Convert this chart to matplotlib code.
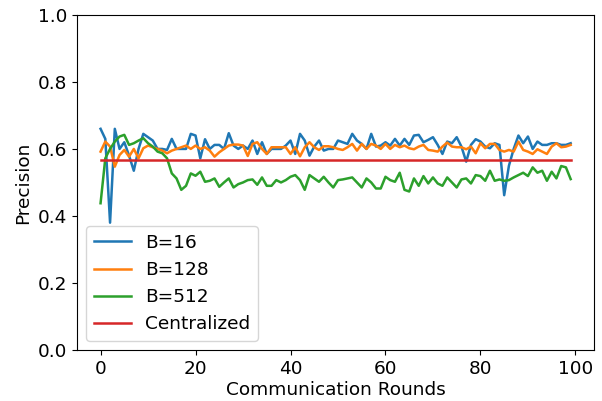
import matplotlib
matplotlib.use("Agg")
import matplotlib.pyplot as plt

rounds = list(range(100))

b16 = [0.66, 0.63, 0.38, 0.66, 0.60, 0.62, 0.58, 0.535, 0.60, 0.645,
       0.635, 0.625, 0.60, 0.60, 0.597, 0.63, 0.60, 0.60, 0.60, 0.645,
       0.64, 0.572, 0.629, 0.60, 0.612, 0.612, 0.60, 0.647, 0.61, 0.60,
       0.61, 0.60, 0.625, 0.585, 0.62, 0.585, 0.60, 0.60, 0.60, 0.61,
       0.625, 0.585, 0.645, 0.625, 0.58, 0.607, 0.625, 0.595, 0.60, 0.60,
       0.625, 0.62, 0.615, 0.645, 0.625, 0.615, 0.60, 0.645, 0.607, 0.61,
       0.62, 0.61, 0.63, 0.61, 0.63, 0.612, 0.64, 0.642, 0.62, 0.627,
       0.635, 0.612, 0.585, 0.622, 0.617, 0.635, 0.607, 0.562, 0.612, 0.629,
       0.622, 0.607, 0.602, 0.617, 0.612, 0.462, 0.55, 0.60, 0.64, 0.617,
       0.637, 0.60, 0.622, 0.612, 0.612, 0.617, 0.617, 0.612, 0.612, 0.617]

b128 = [0.592, 0.622, 0.607, 0.547, 0.582, 0.597, 0.577, 0.60, 0.572, 0.602,
        0.61, 0.605, 0.60, 0.595, 0.587, 0.595, 0.60, 0.605, 0.61, 0.60,
        0.61, 0.60, 0.605, 0.595, 0.577, 0.59, 0.60, 0.61, 0.613, 0.613,
        0.61, 0.579, 0.615, 0.62, 0.60, 0.585, 0.605, 0.605, 0.605, 0.605,
        0.585, 0.605, 0.578, 0.605, 0.62, 0.605, 0.597, 0.608, 0.608, 0.605,
        0.60, 0.597, 0.605, 0.615, 0.595, 0.615, 0.60, 0.615, 0.61, 0.60,
        0.615, 0.60, 0.612, 0.605, 0.61, 0.602, 0.599, 0.607, 0.612, 0.597,
        0.595, 0.592, 0.607, 0.619, 0.607, 0.605, 0.605, 0.599, 0.607, 0.587,
        0.617, 0.602, 0.615, 0.615, 0.597, 0.592, 0.597, 0.592, 0.622, 0.597,
        0.592, 0.585, 0.599, 0.592, 0.585, 0.607, 0.617, 0.605, 0.607, 0.612]

b512 = [0.438, 0.572, 0.60, 0.622, 0.637, 0.642, 0.612, 0.617, 0.625, 0.632,
        0.617, 0.607, 0.592, 0.587, 0.572, 0.527, 0.512, 0.478, 0.49, 0.527,
        0.52, 0.532, 0.502, 0.505, 0.512, 0.487, 0.50, 0.512, 0.485, 0.495,
        0.50, 0.507, 0.509, 0.493, 0.515, 0.49, 0.49, 0.507, 0.50, 0.507,
        0.517, 0.522, 0.507, 0.478, 0.522, 0.512, 0.502, 0.517, 0.50, 0.485,
        0.507, 0.509, 0.512, 0.515, 0.50, 0.485, 0.512, 0.50, 0.482, 0.482,
        0.517, 0.507, 0.502, 0.529, 0.478, 0.473, 0.512, 0.49, 0.519, 0.497,
        0.515, 0.497, 0.49, 0.515, 0.50, 0.485, 0.509, 0.512, 0.497, 0.522,
        0.519, 0.505, 0.535, 0.505, 0.509, 0.505, 0.507, 0.515, 0.522, 0.529,
        0.519, 0.545, 0.529, 0.535, 0.505, 0.532, 0.512, 0.549, 0.545, 0.51]

centralized = 0.567

series = [("B=16", b16, "#1f77b4"),
          ("B=128", b128, "#ff7f0e"),
          ("B=512", b512, "#2ca02c")]

fs = 13.3
fig = plt.figure(figsize=(6.02, 4.01), dpi=100)
ax = fig.add_axes([0.128, 0.127, 0.859, 0.836])
for label, vals, color in series:
    ax.plot(rounds, vals, color=color, lw=1.8, label=label)
ax.plot(rounds, [centralized] * len(rounds), color="#d62728", lw=1.8, label="Centralized")

ax.set_ylim(0, 1.0)
ax.set_xticks([0, 20, 40, 60, 80, 100])
ax.set_yticks([0.0, 0.2, 0.4, 0.6, 0.8, 1.0])
ax.tick_params(labelsize=fs)
ax.set_xlabel("Communication Rounds", fontsize=fs, labelpad=2)
ax.set_ylabel("Precision", fontsize=fs)
ax.legend(loc="lower left", fontsize=fs)

fig.savefig("out.png", dpi=100)
